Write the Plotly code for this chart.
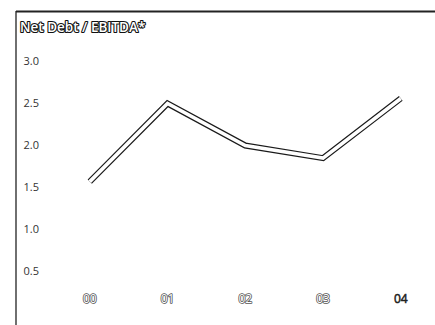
import plotly.graph_objects as go

# Net debt to EBITDA ratio by year
years = ["00", "01", "02", "03", "04"]
ratio = [1.57, 2.50, 2.00, 1.85, 2.56]
y_ticks = [0.5, 1.0, 1.5, 2.0, 2.5, 3.0]
y_tick_labels = ["0.5", "1.0", "1.5", "2.0", "2.5", "3.0"]

W, H = 435, 325
ML, MR, MT, MB = 40, 0, 40, 35
pw, ph = W - ML - MR, H - MT - MB

x_idx = list(range(len(years)))


def hollow(text, stroke, width=2.0):
    # white glyphs with a thin dark rim drawn beneath the fill
    return (f"<span style='color:white;stroke:{stroke};stroke-width:{width}px;"
            f"paint-order:stroke;stroke-linejoin:round'>{text}</span>")


# last year shown solid, earlier years hollow
x_tick_text = [hollow(y, "#555", 1.6) for y in years[:-1]] + \
    [f"<span style='color:#222;stroke:#222;stroke-width:0.5px'>{years[-1]}</span>"]

fig = go.Figure()
# outlined line: dark casing under a white core
fig.add_trace(go.Scatter(x=x_idx, y=ratio, mode="lines",
                         line=dict(color="#1a1a1a", width=6),
                         hoverinfo="skip", showlegend=False))
fig.add_trace(go.Scatter(x=x_idx, y=ratio, mode="lines",
                         line=dict(color="white", width=3.6),
                         showlegend=False))


# frame on the left and top
def px_to_paper_x(px):
    return (px - ML) / pw


def px_to_paper_y(py):
    return (H - MB - py) / ph


fig.add_shape(type="line", xref="paper", yref="paper", layer="above",
              x0=px_to_paper_x(16), x1=px_to_paper_x(16),
              y0=px_to_paper_y(11), y1=px_to_paper_y(H),
              line=dict(color="#222", width=1.3))
fig.add_shape(type="line", xref="paper", yref="paper", layer="above",
              x0=px_to_paper_x(16), x1=px_to_paper_x(W),
              y0=px_to_paper_y(11.5), y1=px_to_paper_y(11.5),
              line=dict(color="#222", width=2))

fig.update_layout(
    width=W, height=H,
    margin=dict(l=ML, r=MR, t=MT, b=MB),
    paper_bgcolor="white", plot_bgcolor="white",
    font=dict(family="Open Sans", color="#333"),
    title=dict(text=hollow("Net Debt / EBITDA*", "#111", 2.2),
               xref="container", yref="container",
               x=20 / W, y=1 - 27 / H, xanchor="left", yanchor="middle",
               font=dict(size=13.5, color="white", weight=600)),
    xaxis=dict(range=[-0.64, 4.44], tickmode="array", tickvals=x_idx,
               ticktext=x_tick_text, showgrid=False, zeroline=False,
               showline=False, ticks="",
               tickfont=dict(size=12, color="white")),
    yaxis=dict(range=[0.28, 3.256], tickmode="array", tickvals=y_ticks,
               ticktext=y_tick_labels, showgrid=False, zeroline=False,
               showline=False, ticks="",
               tickfont=dict(size=11, color="#333")),
)

fig.write_html("out.html", config={"displayModeBar": False})
